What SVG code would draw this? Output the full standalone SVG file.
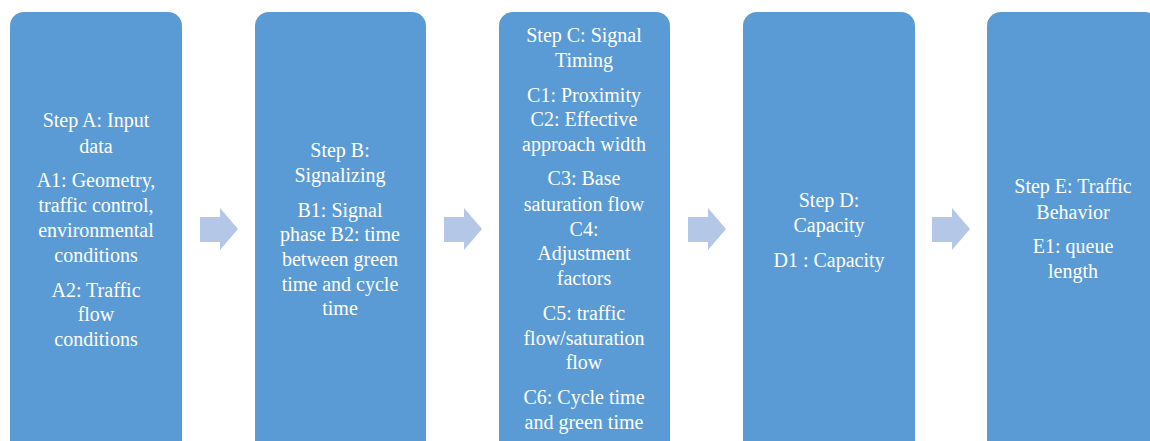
<svg xmlns="http://www.w3.org/2000/svg" width="1150" height="441" viewBox="0 0 1150 441">
<style>
.box{fill:#5B9BD5;}
.t{font-size:20px;fill:#FFFFFF;text-anchor:middle;}
.arr{fill:#B4C7E7;}
</style>
<rect width="1150" height="441" fill="#FFFFFF"/>
<g id="stepA">
<rect class="box" x="10" y="12" width="172" height="445" rx="14"/>
<text class="t" font-family="Liberation Serif, Tinos, Times New Roman, DejaVu Serif, serif"><tspan x="96" y="127">Step A: Input</tspan><tspan x="96" y="153">data</tspan><tspan x="96" y="187">A1: Geometry,</tspan><tspan x="96" y="212">traffic control,</tspan><tspan x="96" y="237">environmental</tspan><tspan x="96" y="262">conditions</tspan><tspan x="96" y="297">A2: Traffic</tspan><tspan x="96" y="321">flow</tspan><tspan x="96" y="346">conditions</tspan></text>
</g>
<g id="stepB">
<rect class="box" x="255" y="12" width="171" height="445" rx="14"/>
<text class="t" font-family="Liberation Serif, Tinos, Times New Roman, DejaVu Serif, serif"><tspan x="340" y="157">Step B:</tspan><tspan x="340" y="182">Signalizing</tspan><tspan x="340" y="217">B1: Signal</tspan><tspan x="340" y="241">phase B2: time</tspan><tspan x="340" y="266">between green</tspan><tspan x="340" y="291">time and cycle</tspan><tspan x="340" y="315">time</tspan></text>
</g>
<g id="stepC">
<rect class="box" x="499" y="12" width="171" height="445" rx="14"/>
<text class="t" font-family="Liberation Serif, Tinos, Times New Roman, DejaVu Serif, serif"><tspan x="584" y="42">Step C: Signal</tspan><tspan x="584" y="67">Timing</tspan><tspan x="584" y="102">C1: Proximity</tspan><tspan x="584" y="126">C2: Effective</tspan><tspan x="584" y="151">approach width</tspan><tspan x="584" y="185">C3: Base</tspan><tspan x="584" y="211">saturation flow</tspan><tspan x="584" y="236">C4:</tspan><tspan x="584" y="260">Adjustment</tspan><tspan x="584" y="285">factors</tspan><tspan x="584" y="320">C5: traffic</tspan><tspan x="584" y="345">flow/saturation</tspan><tspan x="584" y="369">flow</tspan><tspan x="584" y="404">C6: Cycle time</tspan><tspan x="584" y="429">and green time</tspan></text>
</g>
<g id="stepD">
<rect class="box" x="743" y="12" width="172" height="445" rx="14"/>
<text class="t" font-family="Liberation Serif, Tinos, Times New Roman, DejaVu Serif, serif"><tspan x="829" y="207">Step D:</tspan><tspan x="829" y="232">Capacity</tspan><tspan x="829" y="267">D1 : Capacity</tspan></text>
</g>
<g id="stepE">
<rect class="box" x="987" y="12" width="172" height="445" rx="14"/>
<text class="t" font-family="Liberation Serif, Tinos, Times New Roman, DejaVu Serif, serif"><tspan x="1073" y="193">Step E: Traffic</tspan><tspan x="1073" y="219">Behavior</tspan><tspan x="1073" y="253">E1: queue</tspan><tspan x="1073" y="278">length</tspan></text>
</g>
<g id="connectors">
<polygon class="arr" points="200,217 220,217 220,208 238,229 220,250 220,242 200,242"/>
<polygon class="arr" points="444,217 464,217 464,208 482,229 464,250 464,242 444,242"/>
<polygon class="arr" points="688,217 708,217 708,208 726,229 708,250 708,242 688,242"/>
<polygon class="arr" points="932,217 952,217 952,208 970,229 952,250 952,242 932,242"/>
</g>
</svg>
